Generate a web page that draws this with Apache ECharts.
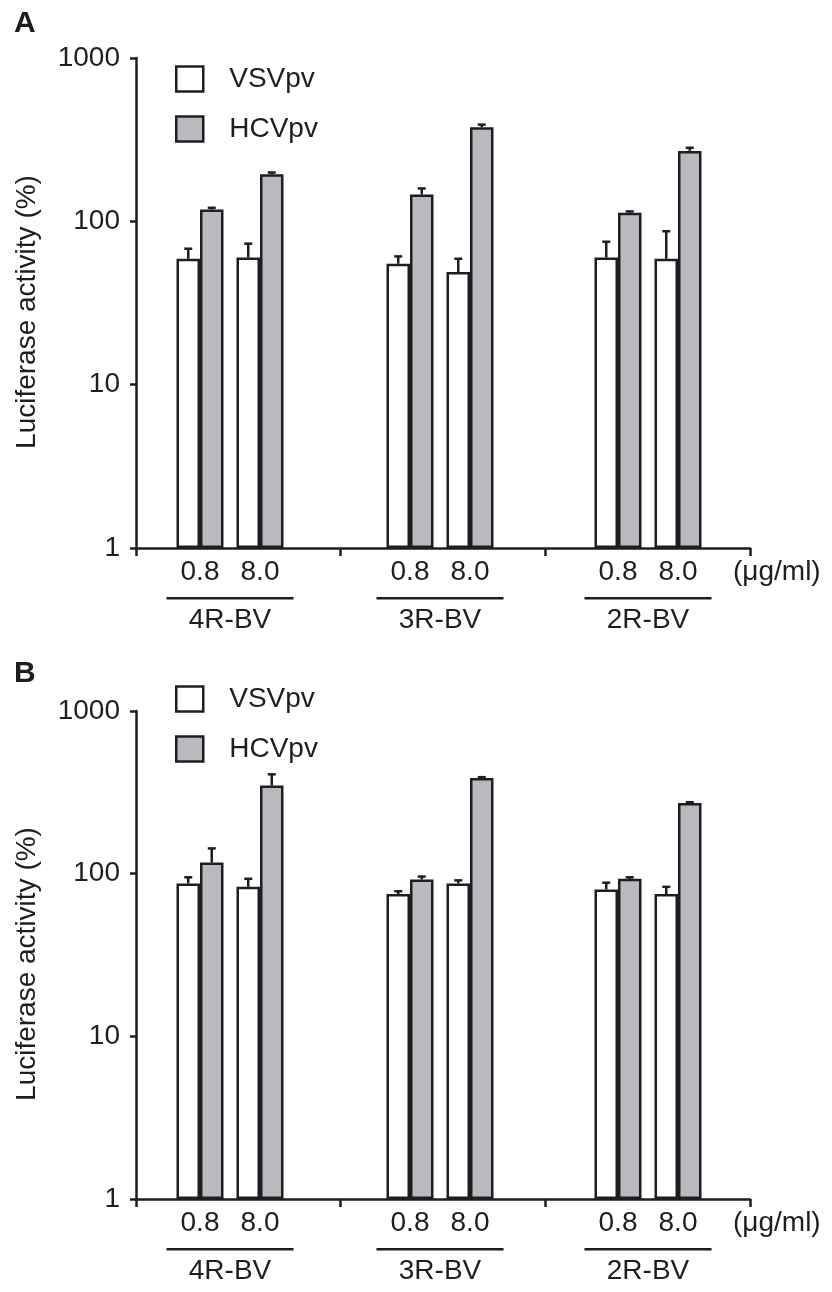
<!DOCTYPE html>
<html>
<head>
<meta charset="utf-8">
<script src="https://cdn.jsdelivr.net/npm/echarts@6/dist/echarts.min.js"></script>
<style>
html, body { margin: 0; padding: 0; background: #fff; }
#main { width: 832px; height: 1292px; }
</style>
</head>
<body>
<div id="main"></div>
<script>
var groups = ['4R-BV', '3R-BV', '2R-BV'];
var doses = ['0.8', '8.0'];
var seriesNames = ['VSVpv', 'HCVpv'];
var yMin = 1, yMax = 1000;

// order of values: 4R 0.8, 4R 8.0, 3R 0.8, 3R 8.0, 2R 0.8, 2R 8.0
var vsvA = [59, 60, 55, 49, 60, 59];
var vsvErrA = [9, 13, 6, 10, 15, 28];
var hcvA = [118, 194, 146, 377, 113, 270];
var hcvErrA = [3, 5, 13, 14, 2, 12];

var vsvB = [87, 83, 75, 87, 80, 75];
var vsvErrB = [8, 10, 3, 4, 8, 8];
var hcvB = [117, 348, 92, 387, 93, 272];
var hcvErrB = [26, 60, 4, 5, 2, 3];

var ink = '#1e1e1e';
var gray = '#b9babf';
var font = '"Liberation Sans", Arial, sans-serif';
var catGap = 0.217;

var panels = [
	{label: 'A', vsv: vsvA, vsvErr: vsvErrA, hcv: hcvA, hcvErr: hcvErrA, top: 58, bottom: 744, legendTop: 65, titleTop: 9},
	{label: 'B', vsv: vsvB, vsvErr: vsvErrB, hcv: hcvB, hcvErr: hcvErrB, top: 711, bottom: 93, legendTop: 685, titleTop: 659}
];
var groupLeft = [170, 380, 588];

// whisker above the bar, side -1 = left bar, +1 = right bar
function errorBar(side) {
	return function(params, api) {
		var band = api.size([1, 0])[0];
		var lo = api.coord([api.value(0), api.value(1)]);
		var hi = api.coord([api.value(0), api.value(1) + api.value(2)]);
		var x = lo[0] + side * band * (1 - catGap) / 4;
		return {
			type: 'group',
			children: [
				{type: 'line', shape: {x1: x, y1: lo[1], x2: x, y2: hi[1]}, style: {stroke: ink, lineWidth: 2.5}},
				{type: 'line', shape: {x1: x - 4, y1: hi[1], x2: x + 4, y2: hi[1]}, style: {stroke: ink, lineWidth: 2.5}}
			]
		};
	};
}

var option = {
	backgroundColor: '#fff',
	animation: false,
	textStyle: {fontFamily: font, color: ink},
	title: [],
	legend: [],
	grid: [],
	xAxis: [],
	yAxis: [],
	series: []
};

panels.forEach(function(p) {
	option.title.push({
		text: p.label, left: 14, top: p.titleTop, padding: 0,
		textStyle: {fontSize: 30, fontWeight: 'bold', color: ink, fontFamily: font}
	});
	option.legend.push({
		orient: 'vertical', left: 175, top: p.legendTop, padding: 0,
		itemWidth: 27, itemHeight: 25, itemGap: 22, icon: 'rect',
		data: seriesNames,
		itemStyle: {borderColor: ink, borderWidth: 2.5},
		textStyle: {fontSize: 28, color: ink, fontFamily: font, padding: [0, 0, 0, 21]}
	});

	// frame: axes only
	var f = option.grid.length;
	option.grid.push({left: 136, right: 82, top: p.top, bottom: p.bottom});
	option.xAxis.push({
		gridIndex: f, type: 'category', data: groups, boundaryGap: true,
		axisLine: {lineStyle: {color: ink, width: 2.5}},
		axisTick: {show: true, interval: 0, alignWithLabel: false, length: 8, lineStyle: {color: ink, width: 2.5}},
		axisLabel: {show: true, interval: 0, color: 'rgba(0,0,0,0)', fontSize: 10},
		name: '(\u03bcg/ml)', nameLocation: 'end', nameGap: -17,
		nameTextStyle: {fontSize: 28, color: ink, fontFamily: font, align: 'left', verticalAlign: 'top', lineHeight: 48}
	});
	option.yAxis.push({
		gridIndex: f, type: 'log', logBase: 10, min: yMin, max: yMax,
		splitLine: {show: false},
		axisLine: {show: true, lineStyle: {color: ink, width: 2.5}},
		axisTick: {show: true, length: 6, lineStyle: {color: ink, width: 2.5}},
		minorTick: {show: false},
		axisLabel: {fontSize: 28, color: ink, margin: 16, fontFamily: font, formatter: function(v) { return String(v); }},
		name: 'Luciferase activity (%)', nameLocation: 'middle', nameGap: 95,
		nameTextStyle: {fontSize: 28, color: ink, fontFamily: font, padding: [0, 18, 0, 0]}
	});

	groups.forEach(function(g, gi) {
		var idx = option.grid.length;
		option.grid.push({left: groupLeft[gi], width: 120, top: p.top, bottom: p.bottom});
		option.xAxis.push({
			gridIndex: idx, type: 'category', data: doses,
			axisLine: {show: false}, axisTick: {show: false},
			axisLabel: {fontSize: 28, color: ink, margin: 10, fontFamily: font},
			name: '{hr|}\n{t|' + g + '}', nameLocation: 'middle', nameGap: 49,
			nameTextStyle: {
				rich: {
					hr: {width: 127, height: 2.5, backgroundColor: ink},
					t: {fontSize: 28, lineHeight: 42, color: ink, fontFamily: font}
				}
			}
		});
		option.yAxis.push({gridIndex: idx, type: 'log', logBase: 10, min: yMin, max: yMax, show: false});

		var vsv = p.vsv.slice(gi * 2, gi * 2 + 2);
		var vsvErr = p.vsvErr.slice(gi * 2, gi * 2 + 2);
		var hcv = p.hcv.slice(gi * 2, gi * 2 + 2);
		var hcvErr = p.hcvErr.slice(gi * 2, gi * 2 + 2);

		option.series.push({
			type: 'bar', name: seriesNames[0], xAxisIndex: idx, yAxisIndex: idx,
			data: vsv, barGap: 0, barCategoryGap: (catGap * 100) + '%',
			itemStyle: {color: '#ffffff', borderColor: ink, borderWidth: 2.5}
		});
		option.series.push({
			type: 'bar', name: seriesNames[1], xAxisIndex: idx, yAxisIndex: idx,
			data: hcv, barGap: 0, barCategoryGap: (catGap * 100) + '%',
			itemStyle: {color: gray, borderColor: ink, borderWidth: 2.5}
		});
		option.series.push({
			type: 'custom', xAxisIndex: idx, yAxisIndex: idx, z: 5,
			renderItem: errorBar(-1),
			data: vsv.map(function(v, i) { return [i, v, vsvErr[i]]; })
		});
		option.series.push({
			type: 'custom', xAxisIndex: idx, yAxisIndex: idx, z: 5,
			renderItem: errorBar(1),
			data: hcv.map(function(v, i) { return [i, v, hcvErr[i]]; })
		});
	});
});

var myChart = echarts.init(document.getElementById('main'));
myChart.setOption(option);
</script>
</body>
</html>
